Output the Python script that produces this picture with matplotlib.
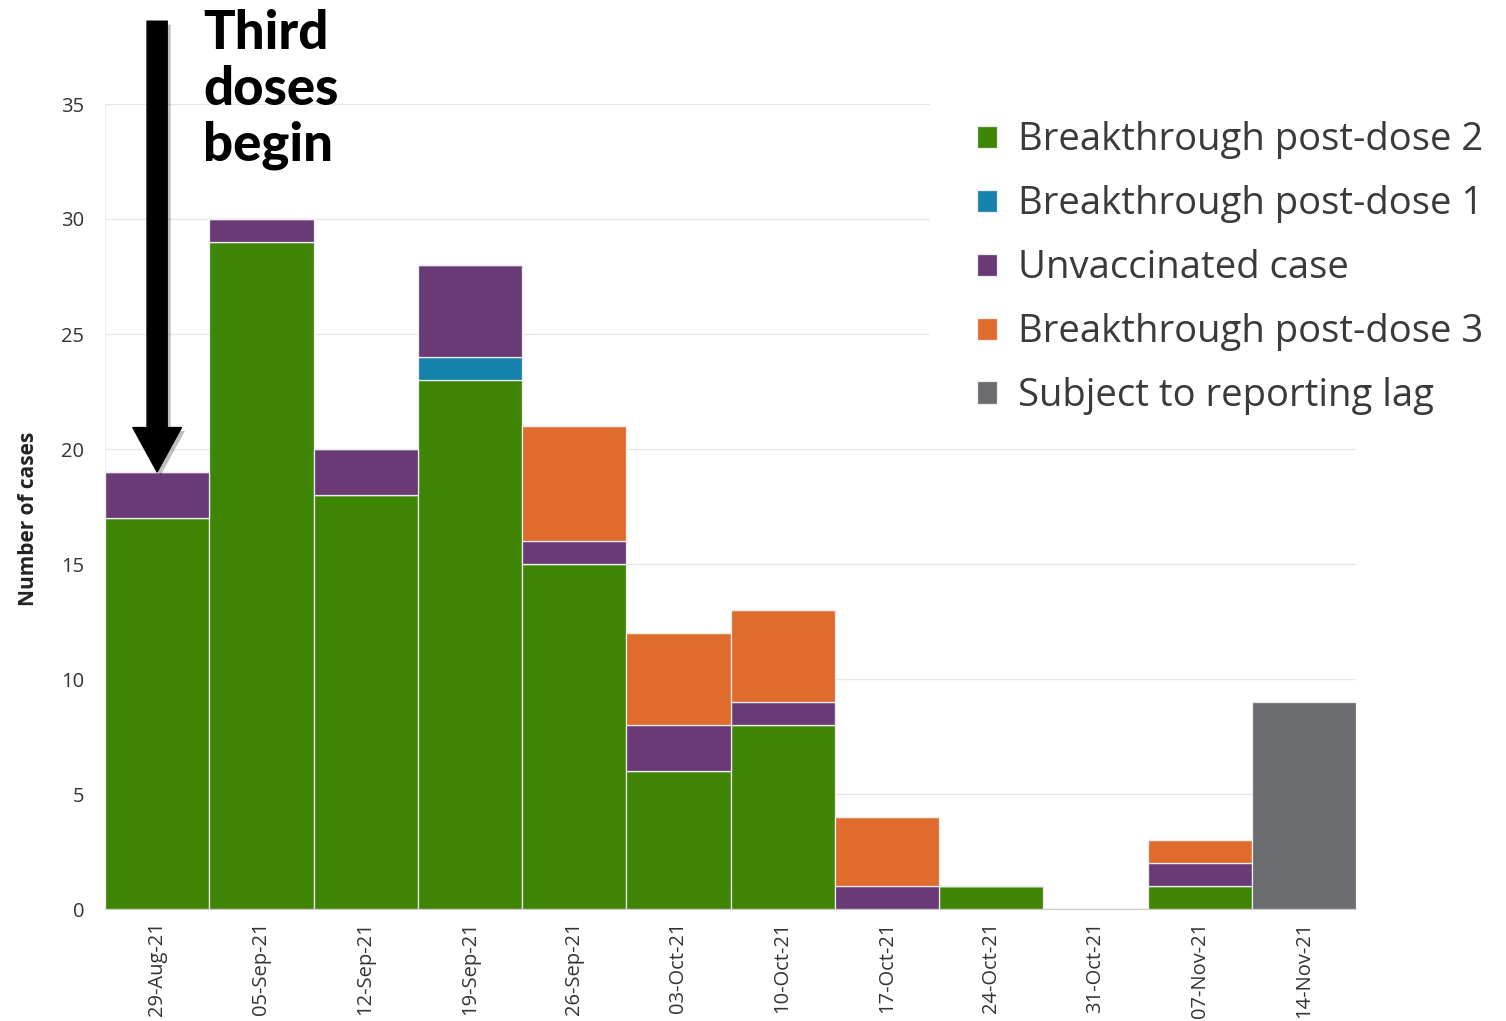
import matplotlib
matplotlib.use("Agg")
import matplotlib.pyplot as plt
import matplotlib.patheffects as pe
from matplotlib.patches import Rectangle
import numpy as np

weeks = ["29-Aug-21", "05-Sep-21", "12-Sep-21", "19-Sep-21", "26-Sep-21", "03-Oct-21",
         "10-Oct-21", "17-Oct-21", "24-Oct-21", "31-Oct-21", "07-Nov-21", "14-Nov-21"]

post_dose_2 = [17, 29, 18, 23, 15, 6, 8, 0, 1, 0, 1, 0]
post_dose_1 = [0, 0, 0, 1, 0, 0, 0, 0, 0, 0, 0, 0]
unvaccinated = [2, 1, 2, 4, 1, 2, 1, 1, 0, 0, 1, 0]
post_dose_3 = [0, 0, 0, 0, 5, 4, 4, 3, 0, 0, 1, 0]
reporting_lag = [0, 0, 0, 0, 0, 0, 0, 0, 0, 0, 0, 9]

series = [
    ("Breakthrough post-dose 2", post_dose_2, "#3f8505"),
    ("Breakthrough post-dose 1", post_dose_1, "#1582ab"),
    ("Unvaccinated case", unvaccinated, "#6a3a77"),
    ("Breakthrough post-dose 3", post_dose_3, "#df6c2d"),
    ("Subject to reporting lag", reporting_lag, "#6b6c70"),
]

W, H = 1506, 1021
fig = plt.figure(figsize=(W / 100, H / 100), dpi=100)
ax = fig.add_axes([105 / W, 1 - 909 / H, (1356 - 105) / W, (909 - 104) / H])

x = np.arange(len(weeks))
bottom = np.zeros(len(weeks))
handles = []
for label, vals, color in series:
    vals = np.array(vals, dtype=float)
    b = ax.bar(x, vals, width=1.0, bottom=bottom, color=color,
               edgecolor="#eeeeee", linewidth=0.9, label=label, zorder=2)
    handles.append(b)
    bottom += vals

ax.set_xlim(-0.5, len(weeks) - 0.5)
ax.set_ylim(0, 35)
ax.set_yticks(np.arange(0, 36, 5))
ax.set_xticks(x)
ax.set_xticklabels(weeks, rotation=90, family="Open Sans", fontsize=14.5, color="#333333")
for t in ax.get_yticklabels():
    t.set_family("Open Sans")
    t.set_fontsize(14.5)
    t.set_color("#333333")
ax.tick_params(axis="both", length=0)
ax.tick_params(axis="y", pad=15)
ax.tick_params(axis="x", pad=9)

ax.set_axisbelow(True)
ax.grid(axis="y", color="#e8e8e8", linewidth=1.0)
for s in ["top", "right"]:
    ax.spines[s].set_visible(False)
ax.spines["left"].set_color("#eeeeee")
ax.spines["bottom"].set_color("#cccccc")

ax.set_ylabel("Number of cases", family="Open Sans", fontweight="bold",
              fontsize=15, color="#222222")
ax.yaxis.set_label_coords(-66 / (1356 - 105), 0.485)

# white panel behind the legend, hiding the gridlines
panel = Rectangle((930 / W, 1 - 443 / H), (W - 930) / W, (443 - 92) / H,
                  transform=fig.transFigure, facecolor="white", edgecolor="none",
                  zorder=1.5, clip_on=False)
ax.add_patch(panel)

leg = fig.legend(handles=handles, loc="upper left",
                 bbox_to_anchor=(962 / W, 1 - 106 / H),
                 frameon=False, prop={"family": "Open Sans", "size": 27.5},
                 handlelength=0.52, handleheight=0.52, handletextpad=0.55,
                 labelspacing=0.68, borderaxespad=0)
for t in leg.get_texts():
    t.set_color("#3a3a3a")

# annotation arrow and text
ax.annotate("", xy=(0, 19), xytext=(0, 38.6), xycoords="data",
            arrowprops=dict(arrowstyle="simple,head_length=3.2,head_width=3.5,tail_width=1.45",
                            mutation_scale=10, color="black", shrinkA=0, shrinkB=0,
                            path_effects=[pe.SimplePatchShadow(offset=(2.5, -2.5), alpha=0.25),
                                          pe.Normal()]),
            annotation_clip=False, zorder=5)

fig.text(203 / W, 1 - 9 / H, "Third\ndoses\nbegin", ha="left", va="top",
         family="Lato", fontweight="black", fontsize=38, linespacing=1.17,
         color="black")

fig.savefig("out.png", dpi=100)
